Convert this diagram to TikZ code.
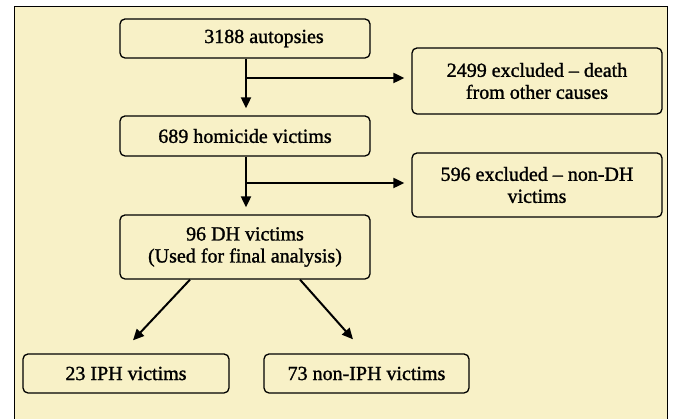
\documentclass[tikz,border=0pt]{standalone}
\usepackage{xcolor}
\usepackage{fontspec}
\setmainfont{Liberation Serif}[BoldFont={Liberation Serif}, BoldFeatures={FakeBold=1.3}]
\usetikzlibrary{arrows.meta}
\definecolor{paleyellow}{RGB}{248,241,199}
\tikzstyle{stage} = [rectangle, rounded corners=5pt, minimum width=250pt, minimum height=39pt, inner sep=0pt, align=center, draw=black, line width=1.3pt, fill=paleyellow]
\tikzstyle{excluded} = [stage, minimum height=66pt]
\tikzstyle{subgroup} = [stage, minimum width=206pt]
\tikzstyle{arrow} = [line width=2pt, -{Triangle[length=11pt,width=10pt]}]

\begin{document}
\begin{tikzpicture}[x=1pt, y=1pt, font=\fontsize{20}{22}\selectfont\bfseries]
\useasboundingbox (0,0) rectangle (673,419);
\clip (0,0) rectangle (673,419);
\draw[line width=1pt, fill=paleyellow] (14,-10) rectangle (667,412);

\node (autopsies) [stage] at (245,380.5) {\hspace*{38pt}3188 autopsies};
\node (other) [excluded] at (537,338) {2499 excluded -- death\\from other causes};
\node (homicide) [stage, minimum height=40pt] at (245,283) {689 homicide victims};
\node (nondh) [excluded, minimum height=64pt] at (537,234) {596 excluded -- non-DH\\victims};
\node (dh) [stage, minimum height=64pt] at (245,172) {96 DH victims\\(Used for final analysis)};
\node (iph) [subgroup] at (126,45.5) {23 IPH victims};
\node (noniph) [subgroup, minimum width=205pt] at (366.5,45.5) {73 non-IPH victims};

\coordinate (split1) at (246,341);
\coordinate (split2) at (246,236);

\draw[arrow, shorten >=7pt] (autopsies.south -| split1) -- (homicide.north -| split1);
\draw[arrow, shorten >=7pt] (split1) -- (other.west |- split1);
\draw[arrow, shorten >=7pt] (homicide.south -| split2) -- (dh.north -| split2);
\draw[arrow, shorten >=7pt] (split2) -- (nondh.west |- split2);

\draw[arrow] ([xshift=-55pt]dh.south) -- ([xshift=7pt,yshift=13pt]iph.north);
\draw[arrow] ([xshift=55pt]dh.south) -- ([xshift=-13.5pt,yshift=14pt]noniph.north);
\end{tikzpicture}
\end{document}
